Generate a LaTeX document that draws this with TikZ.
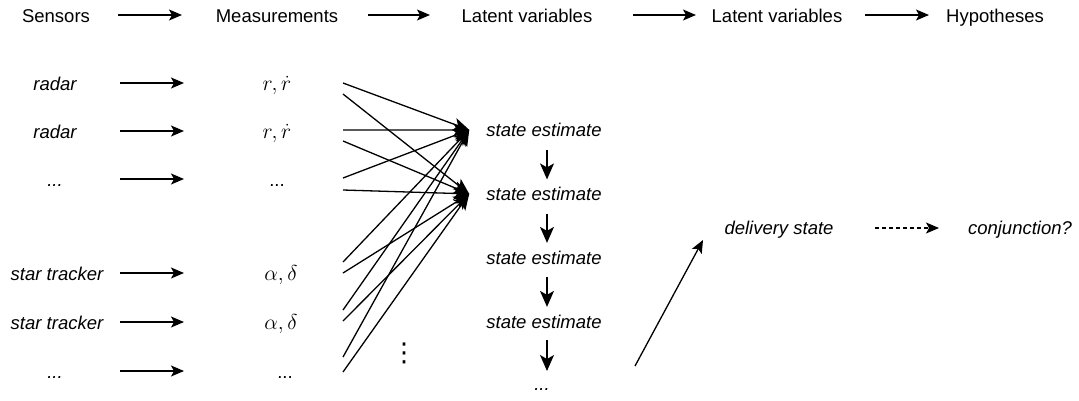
\documentclass[tikz,border=0pt]{standalone}
\usepackage{fontspec}
\setmainfont{Liberation Sans}
\newfontfamily\dejavu{DejaVu Sans}
\usetikzlibrary{arrows.meta}
\newcommand{\bigmath}[1]{\scalebox{1.25}{$#1$}}
\begin{document}
\begin{tikzpicture}[x=1pt,y=-1pt,
  lbl/.style={inner sep=0pt, anchor=base, font=\fontsize{18.5}{22}\selectfont},
  ilbl/.style={inner sep=0pt, anchor=base, font=\fontsize{18.5}{22}\selectfont\itshape},
  arr/.style={line width=1.3pt, -{Stealth[length=13pt,width=11pt,inset=3pt]}},
  varr/.style={line width=1.3pt, -{Stealth[length=16pt,width=14pt,inset=4pt]}},
  fan/.style={line width=1.3pt, -{Stealth[length=16pt,width=13pt,inset=4pt]}},
  dsh/.style={line width=1.3pt, dash pattern=on 4pt off 3pt, -{Stealth[length=13pt,width=11pt,inset=3pt]}},
]
\useasboundingbox (0,0) rectangle (1079,400);

% header
\node[lbl] (hsens) at (56,22) {Sensors};
\node[lbl] (hmeas) at (277,22) {Measurements};
\node[lbl] (hlat1) at (527,22) {Latent variables};
\node[lbl] (hlat2) at (777,22) {Latent variables};
\node[lbl] (hhyp) at (995,22) {Hypotheses};
\coordinate (ha1) at (118,15); \coordinate (hb1) at (182,15);
\coordinate (ha2) at (368,15); \coordinate (hb2) at (430,15);
\coordinate (ha3) at (633,15); \coordinate (hb3) at (696,15);
\coordinate (ha4) at (865,15); \coordinate (hb4) at (929,15);
\draw[arr] (ha1) -- (hb1);
\draw[arr] (ha2) -- (hb2);
\draw[arr] (ha3) -- (hb3);
\draw[arr] (ha4) -- (hb4);

% sensors
\node[ilbl] (s1) at (55,90) {radar};
\node[ilbl] (s2) at (55,138) {radar};
\node[ilbl] (s3) at (55,186) {...};
\node[ilbl] (s4) at (57,280) {star tracker};
\node[ilbl] (s5) at (57,329) {star tracker};
\node[ilbl] (s6) at (55,378) {...};

% measurements
\node[lbl] (m1) at (277,90) {\bigmath{r,\dot r}};
\node[lbl] (m2) at (277,138) {\bigmath{r,\dot r}};
\node[lbl] (m3) at (277,186) {...};
\node[lbl] (m4) at (281,280) {\bigmath{\alpha,\delta}};
\node[lbl] (m5) at (281,329) {\bigmath{\alpha,\delta}};
\node[lbl] (m6) at (285,378) {...};

\foreach \i/\y in {1/83,2/131,3/179,4/273,5/322,6/371}{
  \coordinate (ra\i) at (120,\y);
  \coordinate (rb\i) at (184,\y);
  \draw[arr] (ra\i) -- (rb\i);
}

% state estimates
\node[ilbl] (se1) at (544,136.5) {state estimate};
\node[ilbl] (se2) at (544,200.5) {state estimate};
\node[ilbl] (se3) at (544,264) {state estimate};
\node[ilbl] (se4) at (544,328) {state estimate};
\node[ilbl] (se5) at (542,390) {...};

\coordinate (T1) at ([xshift=-17pt]se1.west);
\coordinate (T2) at ([xshift=-17pt]se2.west);

% fan of connectors
\foreach \y in {83,130,178,262,310,357}{
  \coordinate (fa) at (343,\y);
  \draw[fan] (fa) -- (T1);
}
\foreach \y in {94,141,190,273,321,372}{
  \coordinate (fb) at (343,\y);
  \draw[fan] (fb) -- (T2);
}

% vertical dots
\node[inner sep=0pt, font=\dejavu\fontsize{26}{26}\selectfont] (vd) at (404,353) {⋮};

% vertical arrows
\coordinate (vx) at (547,0);
\draw[varr, shorten <=13.5pt, shorten >=7.5pt] (se1.south -| vx) -- (se2.north -| vx);
\draw[varr, shorten <=13pt, shorten >=7.5pt] (se2.south -| vx) -- (se3.north -| vx);
\draw[varr, shorten <=13pt, shorten >=7.5pt] (se3.south -| vx) -- (se4.north -| vx);
\coordinate (se5top) at (547,371);
\draw[varr, shorten <=12pt] (se4.south -| vx) -- (se5top);

% delivery state
\node[ilbl] (del) at (779,234) {delivery state};
\node[ilbl] (conj) at (1020,234) {conjunction?};
\coordinate (dstart) at (635,366);
\coordinate (dend) at (703,240);
\draw[arr] (dstart) -- (dend);
\coordinate (ca) at (875,228); \coordinate (cb) at (939,228);
\draw[dsh] (ca) -- (cb);
\end{tikzpicture}
\end{document}
